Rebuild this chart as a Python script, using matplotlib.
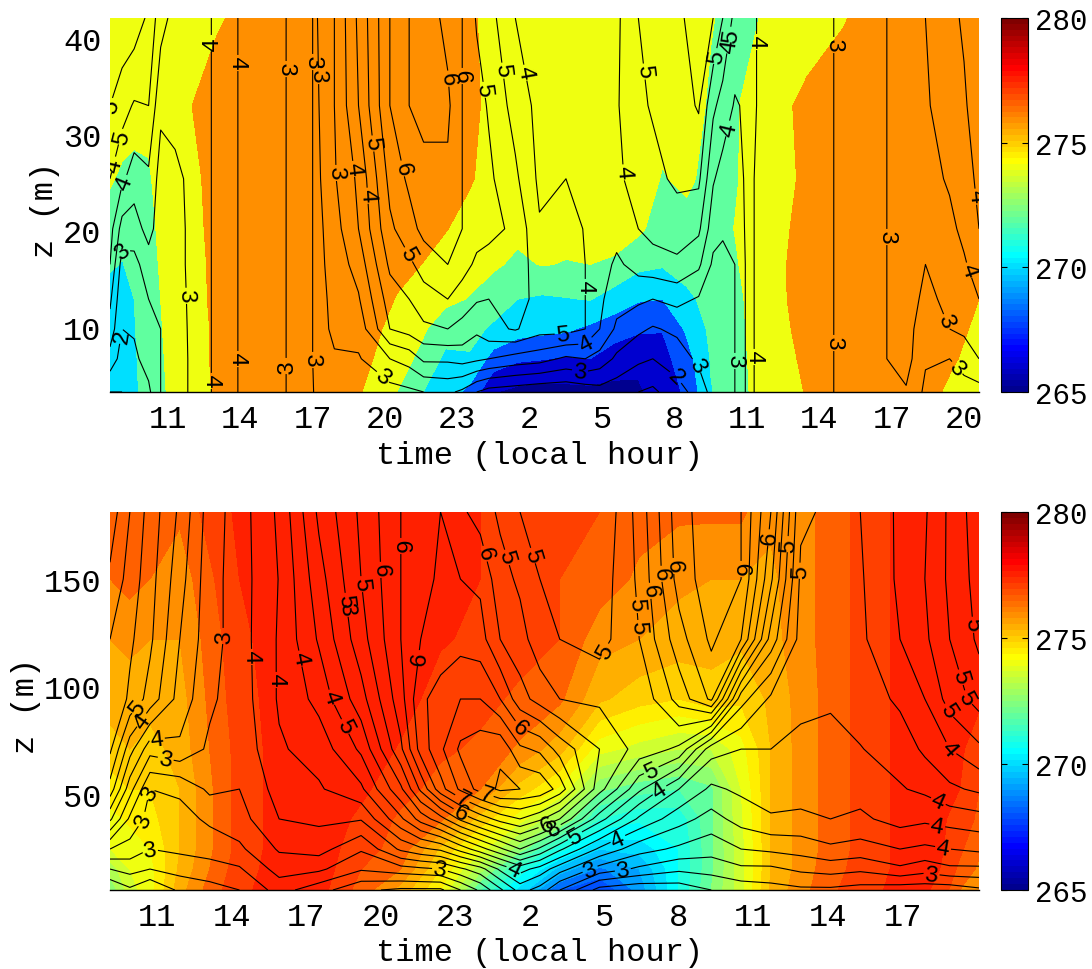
# -*- coding: utf-8 -*-
"""
Potential temperature (shaded) and wind speed (contours) against time and height,
lower level tower above, deeper layer below.
"""
import numpy as np
import matplotlib
matplotlib.use("Agg")
import matplotlib.pyplot as plt
from matplotlib.colors import ListedColormap, Normalize
from matplotlib.cm import ScalarMappable

plt.rcParams['font.family'] = ['Liberation Mono', 'DejaVu Sans Mono']
plt.rcParams['font.size'] = 23

# --- top panel ---
z_top = [3.25, 6.7, 9.8, 12.9, 16.5, 20.2, 25.4, 33, 42.1]
hours_top_theta = [8.6, 9.1, 9.6, 10.2, 10.7, 11.3, 12, 13, 15, 17, 18.5, 19.5, 20.5, 21.5, 22.5,
                   23.5, 24.5, 25.5, 26.5, 27.5, 28.5, 29.5, 30.5, 31.5, 32.5, 33.5, 34.5, 35.5,
                   36.5, 37.5, 39, 41, 42.5, 43.5, 44.62]
# one line per time, from the ground up
theta_top = [
    [270.5, 270.6, 270.8, 271, 272.3, 273.2, 274.2, 275, 275.2],
    [271, 271, 271.2, 271.6, 271.9, 272.6, 273.7, 275, 275.2],
    [271.7, 271.8, 271.9, 272, 272.6, 273, 273.6, 274.6, 275],
    [272.7, 272.8, 272.9, 273, 273.2, 273.4, 273.8, 274.5, 274.8],
    [273.7, 273.8, 273.9, 274, 274.2, 274.4, 274.6, 275, 275.2],
    [274.5, 274.6, 274.7, 274.8, 274.9, 275, 275.1, 275.4, 275.3],
    [275.2, 275.2, 275.2, 275.3, 275.4, 275.5, 275.6, 276, 275.6],
    [276.2, 276.3, 276.3, 276.4, 276.4, 276.5, 276.6, 276.7, 275.8],
    [276.9, 277, 277, 277, 277, 277, 277, 277, 276.8],
    [277, 277, 277, 277, 277, 277, 277, 277, 277],
    [276.6, 276.7, 276.8, 276.9, 277, 277, 277, 277, 277],
    [275.5, 276, 276.3, 276.8, 277, 277, 277, 277, 277],
    [274, 275, 275.5, 275.9, 276.5, 276.9, 277, 277, 277],
    [272.1, 273.5, 274.4, 275.1, 276, 276.5, 276.9, 277, 277],
    [271, 271.6, 272.8, 274.5, 275.2, 276.1, 276.6, 277, 277],
    [269.5, 271.8, 272.6, 273.9, 274.8, 275.3, 276.2, 276.5, 276.3],
    [266.1, 269.2, 271.7, 272.9, 274.3, 274.8, 275.2, 275.4, 275.4],
    [265.5, 268.3, 270.8, 272, 273.6, 274.5, 275, 275.2, 275.2],
    [265.2, 268.1, 270.5, 271.7, 274.1, 274.8, 275, 275, 275],
    [265.4, 267.8, 270.3, 271.9, 273.9, 274.6, 274.8, 275, 275],
    [265.5, 268, 269.6, 272.1, 274, 274.7, 274.9, 275, 275],
    [265.5, 266.9, 269, 271, 273.8, 274.6, 274.8, 275, 275],
    [265.7, 266.5, 268.3, 270.2, 272.5, 274.4, 274.8, 275, 275],
    [267, 267.3, 268.1, 270, 272.2, 273, 273.9, 274.6, 274.8],
    [268.3, 269.2, 270.3, 271.6, 272.7, 273.5, 274.3, 274.7, 274.7],
    [271.9, 272.1, 272.4, 272.6, 272.9, 273.1, 273.5, 273.8, 274.1],
    [273, 273, 273.2, 273.4, 273.8, 274.05, 273.8, 273.8, 273.5],
    [274.7, 274.9, 275, 275, 275, 275.1, 275, 274.9, 274],
    [275.4, 275.6, 275.8, 275.9, 275.9, 275.8, 275.5, 275.8, 275],
    [276.1, 276.3, 276.4, 276.5, 276.6, 276.5, 276.4, 276.3, 275.4],
    [277, 277, 277, 277, 277, 277, 277, 276.8, 275.9],
    [277, 277, 277, 277, 277, 277, 277, 277, 277],
    [276.8, 277, 277, 277, 277, 277, 277, 277, 277],
    [275.4, 276.3, 276.8, 277, 277, 277, 277, 277, 277],
    [274.5, 275, 275.5, 276, 276.6, 277, 277, 277, 277],
]

hours_top_wind = [8.6, 9.1, 9.6, 10.2, 10.7, 11.3, 12, 12.8, 13.9, 15, 15.9, 17, 17.2, 17.9, 18.9,
                  20.2, 21, 21.6, 22.6, 23.2, 23.8, 24.3, 25.4, 26.4, 27.5, 28.3, 28.9, 29.6,
                  30.5, 31.1, 32.1, 33, 33.6, 34, 34.5, 34.9, 35.1, 35.4, 36.7, 38.6, 39.6,
                  40.8, 41.6, 42.4, 43.4, 44, 44.62]
wind_top = [
    [2.5, 3.3, 3.8, 4.1, 4.5, 4.7, 5, 5.5, 6],
    [2.5, 2.8, 3, 3.1, 3.3, 3.8, 4.6, 5.2, 5.9],
    [2.6, 2.9, 3.05, 3.2, 3.35, 3.75, 4.25, 4.95, 5.8],
    [2.9, 3.2, 3.35, 3.5, 3.75, 4.2, 4.4, 5, 5.4],
    [3.5, 3.5, 3.5, 3.55, 3.65, 3.7, 3.8, 4.1, 4.7],
    [3.7, 3.7, 3.75, 3.8, 3.85, 3.85, 3.9, 4.15, 4.3],
    [4.1, 4.1, 4.1, 4.1, 4.1, 4.1, 4.1, 4.15, 4.2],
    [4, 4, 4, 4, 4, 4, 4, 4, 4],
    [3.5, 3.5, 3.5, 3.5, 3.5, 3.5, 3.5, 3.5, 3.5],
    [3.22, 3.22, 3.22, 3.22, 3.22, 3.22, 3.22, 3.22, 3.22],
    [3, 3, 3, 3, 3, 3, 3, 3, 3],
    [2.55, 2.5, 2.5, 2.5, 2.5, 2.5, 2.5, 2.5, 2.5],
    [2.3, 2.3, 2.3, 2.3, 2.35, 2.35, 2.4, 2.45, 2.5],
    [2.5, 2.45, 2.6, 2.65, 2.7, 2.8, 2.95, 3, 3],
    [2.3, 2.45, 2.7, 2.95, 3.2, 3.5, 3.6, 4, 4.1],
    [2.3, 3, 4, 4.25, 4.6, 4.9, 5.15, 5.5, 5.5],
    [2.4, 3.2, 4.2, 4.5, 4.9, 5.3, 5.6, 6, 6],
    [2.5, 3.6, 4.4, 4.8, 5.2, 5.65, 5.8, 6.2, 6.3],
    [2.6, 3.6, 4.5, 5, 5.5, 5.7, 5.9, 6.1, 5.85],
    [2.4, 3.7, 4.35, 4.75, 5.2, 5.5, 5.5, 5.5, 5.5],
    [2, 3.6, 4.1, 4.55, 4.9, 5.2, 5.2, 5.2, 4.95],
    [1.8, 3.5, 4.35, 4.5, 4.8, 5.15, 5.1, 4.95, 4.7],
    [1.7, 3.3, 4.55, 4.7, 4.85, 4.9, 4.6, 4.3, 4],
    [1.6, 3.2, 4.2, 4.35, 4.2, 4.05, 3.9, 3.85, 3.8],
    [1.6, 2.9, 4.2, 4.5, 4.4, 4.2, 4, 3.95, 3.9],
    [1.7, 3, 4, 4, 4, 3.97, 3.9, 3.85, 3.8],
    [1.8, 2.8, 3.5, 3.6, 3.75, 3.8, 3.8, 3.75, 3.7],
    [1.7, 2.4, 2.9, 3.2, 3.4, 3.7, 3.9, 3.95, 3.9],
    [1.5, 2.1, 2.6, 3.1, 3.7, 4, 4.2, 4.4, 4.5],
    [1.4, 2, 2.45, 3, 3.8, 4.15, 4.35, 4.55, 4.7],
    [1.8, 2.25, 2.6, 3.15, 3.9, 4.25, 4.6, 4.75, 4.9],
    [2.2, 2.6, 2.75, 2.95, 3.6, 4.1, 4.6, 5.05, 5.2],
    [2.7, 2.75, 2.8, 2.85, 2.9, 3.2, 3.55, 4.1, 5],
    [2.8, 2.8, 2.8, 2.85, 2.9, 3.05, 3.3, 3.8, 4.5],
    [3, 3, 3, 3, 3, 3.1, 3.3, 3.45, 3.85],
    [3.48, 3.48, 3.48, 3.48, 3.48, 3.5, 3.52, 3.55, 3.7],
    [3.6, 3.6, 3.6, 3.6, 3.6, 3.6, 3.6, 3.6, 3.6],
    [3.45, 3.45, 3.45, 3.45, 3.45, 3.45, 3.45, 3.5, 3.5],
    [3.15, 3.15, 3.15, 3.15, 3.15, 3.15, 3.15, 3.15, 3.15],
    [3, 3, 3, 3, 3, 3, 3, 3, 3],
    [2.7, 2.7, 2.7, 2.7, 2.7, 2.7, 2.7, 2.7, 2.7],
    [3, 3, 3, 3, 3, 3, 3, 3, 3],
    [2.95, 3.2, 3.2, 3.2, 3.2, 3.2, 3.2, 3.2, 3.2],
    [2.4, 2.55, 2.7, 2.9, 3, 3.15, 3.35, 3.45, 3.5],
    [2.1, 2.5, 3, 3.1, 3.2, 3.4, 3.55, 3.7, 3.9],
    [2.3, 2.7, 3.1, 3.25, 3.45, 3.6, 3.8, 3.95, 4.05],
    [2.3, 3, 3.3, 3.5, 3.7, 4, 4.1, 4.2, 4.3],
]
# label text and where it sits, in image pixels
top_labels = [('5', 122, 138), ('5', 112, 110), ('4', 120, 167), ('4', 123, 183), ('3', 122, 250),
              ('2', 122, 337), ('3', 180, 297), ('4', 212, 44), ('4', 238, 64), ('4', 238, 360),
              ('4', 213, 382), ('3', 284, 70), ('3', 288, 367), ('3', 310, 63), ('3', 320, 77),
              ('3', 312, 361), ('3', 335, 174), ('4', 353, 170), ('4', 363, 197), ('5', 368, 145),
              ('6', 400, 170), ('5', 400, 260), ('6', 443, 80), ('6', 462, 77), ('5', 483, 91),
              ('5', 500, 72), ('4', 518, 75), ('5', 640, 73), ('4', 630, 173), ('5', 725, 35),
              ('5', 715, 57), ('4', 732, 47), ('4', 763, 43), ('4', 730, 130), ('3', 836, 46),
              ('3', 889, 238), ('3', 836, 344), ('3', 377, 385), ('4', 972, 198), ('4', 958, 275),
              ('3', 948, 322), ('5', 563, 340), ('3', 580, 372), ('3', 703, 362), ('3', 735, 362),
              ('4', 588, 288), ('2', 673, 382), ('3', 950, 375), ('4', 752, 358), ('4', 590, 348)]

# --- bottom panel ---
z_bot = [5.35, 15.1, 24.4, 38.4, 52.3, 70.9, 94.2, 122, 150, 181.2]
hours_bot_theta = [9.09, 9.89, 10.7, 11.9, 13.1, 14.3, 15.9, 17.5, 19.2, 20.8, 22.4, 24, 25.6, 27.2,
                   28.8, 30.4, 32, 33.3, 34.5, 35.7, 36.9, 38.1, 39.7, 41.3, 42.5, 43.3, 44.08]
theta_bot = [
    [272.6, 273.2, 274, 274.3, 274.8, 275.2, 275.8, 276, 276.5, 277],
    [273.8, 274, 274.2, 274.6, 275, 275.5, 275.8, 276.1, 276.7, 277],
    [274.3, 274.3, 274.5, 274.8, 275, 275.3, 275.7, 276, 276.5, 277],
    [275.8, 275.6, 275.5, 275.5, 275.5, 275.7, 275.8, 276, 276.2, 276.6],
    [276.7, 276.5, 276.4, 276.4, 276.4, 276.5, 276.6, 276.7, 276.9, 277.2],
    [277.4, 277.3, 277.2, 277.2, 277.2, 277.2, 277.3, 277.4, 277.5, 277.6],
    [277.7, 277.7, 277.7, 277.7, 277.7, 277.7, 277.7, 277.7, 277.7, 277.7],
    [277.7, 277.8, 277.8, 277.8, 277.8, 277.8, 277.8, 277.8, 277.8, 277.8],
    [276.8, 277, 277.2, 277.4, 277.6, 277.8, 277.8, 277.8, 277.8, 277.8],
    [275.8, 276.5, 276.8, 276.9, 277.2, 277.45, 277.7, 277.8, 277.8, 277.8],
    [274.5, 275, 275.4, 276.6, 276.8, 277.1, 277.3, 277.55, 277.7, 277.8],
    [272, 273.2, 274.2, 275.3, 276.5, 276.9, 277.15, 277.4, 277.5, 277.5],
    [270.3, 271.3, 272.7, 274.2, 275.3, 276.4, 276.9, 277.2, 277.3, 277.4],
    [268.5, 269.8, 271.2, 273, 274.4, 275.7, 276.6, 277, 277, 277.3],
    [268, 268.9, 270, 271.5, 272.6, 274.2, 275.6, 276.2, 276.8, 277],
    [269.2, 269.5, 270.2, 271.1, 272.2, 273.8, 275.2, 276, 276.4, 276.7],
    [271, 271, 271, 271.2, 272, 273.5, 275, 275.8, 276.1, 276.6],
    [272.5, 272.4, 272.4, 272.4, 272.4, 273.5, 275.3, 275.7, 276, 276.6],
    [273.8, 273.8, 273.8, 273.9, 274, 274.3, 275.1, 275.6, 276, 276.6],
    [275.6, 275.5, 275.5, 275.5, 275.5, 275.5, 275.6, 275.8, 275.9, 276.1],
    [276.3, 276.2, 276.2, 276.2, 276.2, 276.2, 276.2, 276.3, 276.3, 276.3],
    [276.9, 276.8, 276.7, 276.7, 276.7, 276.7, 276.7, 276.7, 276.7, 276.7],
    [277.4, 277.3, 277.3, 277.3, 277.3, 277.3, 277.3, 277.3, 277.3, 277.3],
    [277.7, 277.7, 277.7, 277.7, 277.7, 277.7, 277.7, 277.7, 277.7, 277.7],
    [277.4, 277.5, 277.6, 277.6, 277.6, 277.7, 277.7, 277.7, 277.7, 277.7],
    [276.5, 276.9, 277.1, 277.3, 277.5, 277.6, 277.7, 277.7, 277.7, 277.7],
    [276.2, 276.4, 276.6, 276.9, 277, 277.2, 277.6, 277.7, 277.7, 277.7],
]

hours_bot_wind = [9.09, 9.89, 10.7, 11.9, 13.1, 14.3, 15.9, 17.5, 19.2, 20.8, 21.6, 22.4, 23.2, 24,
                  24.8, 25.6, 26.4, 27.2, 28.8, 30.4, 32, 33.3, 34.5, 35.7, 36.9, 38.1, 39.3,
                  40.9, 41.9, 42.9, 44.08]
wind_bot = [
    [2, 2.5, 3, 3.8, 4.4, 4.8, 5, 5, 5.2, 5.4],
    [2.2, 2.6, 2.9, 3.2, 3.6, 4.1, 4.7, 4.8, 4.9, 5],
    [2, 2.5, 2.75, 2.9, 3, 3.6, 4.4, 4.55, 4.6, 4.65],
    [2.3, 2.6, 2.8, 2.9, 3.05, 3.7, 3.9, 4, 4.1, 4.2],
    [2.4, 2.65, 2.85, 3.05, 3.3, 3.45, 3.55, 3.6, 3.6, 3.63],
    [2.5, 2.72, 2.95, 3.15, 3.25, 3.32, 3.36, 3.38, 3.38, 3.38],
    [2.85, 3.1, 3.28, 3.5, 3.6, 3.72, 3.78, 3.78, 3.76, 3.8],
    [2.6, 3.05, 3.35, 3.55, 3.72, 3.85, 4.08, 4.28, 4.4, 4.55],
    [2.3, 2.78, 3.03, 3.52, 3.95, 4.3, 4.65, 4.9, 5, 5.05],
    [2.2, 2.9, 3.55, 4.2, 4.7, 5.2, 5.4, 5.5, 5.5, 5.5],
    [2.2, 2.95, 3.7, 4.6, 5.3, 5.85, 5.95, 5.75, 5.65, 5.6],
    [2.2, 3, 3.8, 4.9, 5.9, 6.2, 6.1, 5.85, 5.8, 5.75],
    [2.5, 3.2, 4.1, 5.3, 6.3, 6.55, 6.25, 5.9, 5.75, 5.55],
    [2.8, 3.4, 4.4, 5.6, 6.6, 6.65, 6.25, 5.85, 5.7, 5.4],
    [3.2, 3.8, 4.7, 5.85, 6.8, 6.7, 6, 5.5, 5.35, 5.2],
    [3.6, 4.1, 5, 6, 6.75, 6.3, 5.6, 5.35, 5.2, 5],
    [3.4, 3.9, 4.7, 5.8, 6.7, 6.2, 5.4, 5.1, 5, 4.9],
    [3, 3.6, 4.3, 5.5, 6.4, 5.9, 5.25, 5, 4.85, 4.8],
    [2.4, 3.15, 3.7, 4.6, 5.35, 5.5, 5.2, 4.9, 4.85, 4.75],
    [2.3, 2.95, 3.35, 3.95, 4.55, 5.15, 5.05, 5.25, 5.3, 5.35],
    [2.35, 2.8, 3.2, 3.6, 4, 4.95, 5.6, 5.9, 6.1, 6.15],
    [2.5, 2.85, 3.1, 3.4, 3.7, 4.1, 6.05, 6.3, 6.4, 6.4],
    [2.6, 2.95, 3.25, 3.6, 3.8, 4, 4.6, 6, 6.25, 6.25],
    [2.65, 2.95, 3.3, 3.72, 3.87, 4, 4.2, 4.9, 5.3, 5.5],
    [2.7, 3.05, 3.35, 3.7, 3.85, 3.95, 4.05, 4.15, 4.2, 4.3],
    [2.7, 3.1, 3.45, 3.75, 3.85, 3.95, 4.02, 4.1, 4.15, 4.2],
    [2.65, 3.05, 3.4, 3.7, 3.85, 3.99, 4.1, 4.2, 4.22, 4.25],
    [2.6, 3.2, 3.5, 3.85, 3.98, 4.1, 4.3, 4.5, 4.55, 4.55],
    [2.6, 3.1, 3.45, 3.8, 4.05, 4.3, 4.5, 4.7, 4.75, 4.72],
    [2.6, 3.2, 3.5, 3.85, 4.2, 4.5, 4.85, 5, 5.05, 5.05],
    [2.7, 3.2, 3.55, 3.9, 4.3, 4.7, 5.1, 5.3, 5.35, 5.4],
]
bot_labels = [('5', 132, 704), ('4', 143, 722), ('4', 157, 742), ('3', 167, 753), ('3', 148, 793),
              ('3', 142, 820), ('3', 145, 840), ('3', 218, 637), ('4', 250, 658), ('4', 273, 681),
              ('4', 298, 660), ('4', 333, 698), ('5', 352, 724), ('5', 353, 601), ('3', 340, 610),
              ('5', 363, 585), ('6', 377, 571), ('6', 403, 547), ('6', 426, 660), ('6', 480, 556),
              ('5', 505, 559), ('5', 528, 558), ('6', 518, 731), ('6', 460, 815), ('7', 463, 798),
              ('7', 485, 798), ('3', 440, 872), ('4', 513, 872), ('6', 547, 828), ('5', 607, 653),
              ('5', 625, 630), ('5', 637, 606), ('6', 648, 592), ('6', 657, 575), ('6', 673, 567),
              ('6', 740, 570), ('5', 807, 572), ('6', 765, 538), ('5', 785, 545), ('5', 653, 775),
              ('4', 660, 792), ('4', 617, 838), ('3', 623, 872), ('3', 590, 870), ('8', 553, 828),
              ('5', 575, 837), ('5', 970, 626), ('5', 965, 677), ('5', 957, 702), ('5', 942, 715),
              ('4', 943, 757), ('4', 942, 794), ('4', 937, 828), ('4', 942, 855), ('3', 932, 871)]

# MATLAB jet(64), indexed 1..64
idx = np.arange(1, 65)
jet_r = np.interp(idx, [24, 40, 56, 64], [0, 1, 1, 0.5])
jet_g = np.interp(idx, [8, 24, 40, 56], [0, 1, 1, 0])
jet_b = np.interp(idx, [1, 8, 24, 40], [0.5625, 1, 1, 0])
cmap = ListedColormap(np.column_stack([jet_r, jet_g, jet_b]))
norm = Normalize(265, 280)

W, H = 1092, 970


def draw_panel(box, hours_t, hours_w, z, theta, wind, theta_levels, wind_levels,
               xlim, ylim, ticks, ticklabels, yticks, labels):
    x0, y0, x1, y1 = box
    ax = fig.add_axes([x0/W, 1-y1/H, (x1-x0)/W, (y1-y0)/H])
    # each band takes the colour of its lower level, as contourf does in MATLAB
    band_colors = [cmap(norm(v)) for v in theta_levels[:-1]]
    ax.contourf(hours_t, z, np.array(theta).T, levels=theta_levels, colors=band_colors)
    cs = ax.contour(hours_w, z, np.array(wind).T, levels=wind_levels, colors='k', linewidths=0.8)
    ax.set_xlim(xlim)
    ax.set_ylim(ylim)
    ax.set_xticks(ticks)
    ax.set_xticklabels(ticklabels)
    ax.set_yticks(yticks)
    ax.tick_params(axis='x', length=0, pad=9)
    ax.tick_params(axis='y', length=0, pad=6)
    for side in ['left', 'top', 'right']:
        ax.spines[side].set_visible(False)
    ax.spines['bottom'].set_linewidth(1.0)

    # labels: put them by hand like clabel(...,'manual'), the text is as in the picture
    pts = ax.transData.inverted().transform([(px, H-py) for s, px, py in labels])
    texts = ax.clabel(cs, manual=[tuple(p) for p in pts], fontsize=17, inline_spacing=1,
                      fmt='%.0f')
    for t, lab in zip(texts, labels):
        t.set_text(lab[0])

    cax = fig.add_axes([1001/W, 1-y1/H, 27/W, (y1-y0)/H])
    cb = fig.colorbar(ScalarMappable(norm=norm, cmap=cmap), cax=cax)
    cb.set_ticks([265, 270, 275, 280])
    cb.ax.tick_params(direction='in', left=True, right=True, length=4, width=0.8, pad=5,
                      labelsize=21)
    cb.outline.set_linewidth(0.8)
    return ax


fig = plt.figure(figsize=(W/100, H/100), dpi=100)

draw_panel((110, 19, 979, 393), hours_top_theta, hours_top_wind, z_top,
           theta_top, wind_top, np.arange(264, 281, 2), np.arange(1.5, 7.1, 0.5),
           (8.6, 44.62), (3.25, 42.1), np.arange(11, 45, 3),
           ['11', '14', '17', '20', '23', '2', '5', '8', '11', '14', '17', '20'],
           [10, 20, 30, 40], top_labels)

draw_panel((110, 513, 979, 891), hours_bot_theta, hours_bot_wind, z_bot,
           theta_bot, wind_bot, np.arange(265, 280.5, 0.5), np.arange(1.5, 8.1, 0.25),
           (9.09, 44.08), (5.35, 181.2), np.arange(11, 42, 3),
           ['11', '14', '17', '20', '23', '2', '5', '8', '11', '14', '17'],
           [50, 100, 150], bot_labels)

fig.text(540/W, 1-456/H, 'time (local hour)', ha='center', va='center')
fig.text(540/W, 1-953/H, 'time (local hour)', ha='center', va='center')
fig.text(45/W, 1-210/H, 'z (m)', ha='center', va='center', rotation=90)
fig.text(26/W, 1-706/H, 'z (m)', ha='center', va='center', rotation=90)

fig.savefig('out.png', dpi=100)
